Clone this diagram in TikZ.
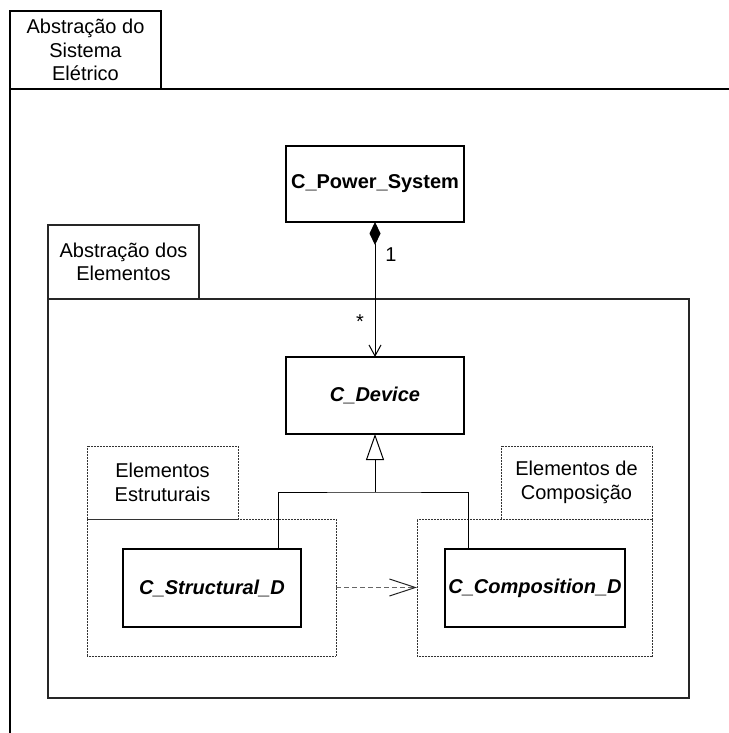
\documentclass[tikz,border=0pt]{standalone}
\usepackage{fontspec}
\setmainfont{Liberation Sans}
\usetikzlibrary{arrows.meta}
\begin{document}
\begin{tikzpicture}[x=1pt,y=-1pt,
  every node/.style={inner sep=0pt, outer sep=0pt},
  txt/.style={font=\fontsize{20}{23.5}\selectfont, align=center},
  outerpkg/.style={draw, line width=2.6pt, txt},
  mainpkg/.style={draw=black!85, line width=1.1pt, txt},
  subpkg/.style={draw=black!80, line width=0.9pt, dash pattern=on 1pt off 0.5pt, txt},
  classbox/.style={draw, line width=2pt, fill=white, font=\fontsize{20}{24}\selectfont\bfseries},
  abstractclass/.style={classbox, font=\fontsize{20}{24}\selectfont\bfseries\itshape},
  conn/.style={line width=1pt},
  composition/.style={conn, {Diamond[length=23pt,width=11pt]}-{Straight Barb[length=11pt,width=12pt,line width=1pt]}},
  generalization/.style={conn, -{Triangle[open,length=26pt,width=18pt,fill=white]}},
  dependency/.style={conn, draw=black!60, dash pattern=on 5pt off 3pt, -{Straight Barb[length=26pt,width=17pt,line width=1pt,color=black!85]}},
  mult/.style={font=\fontsize{20}{24}\selectfont}
]
\useasboundingbox (0,0) rectangle (728,733);

% outer package: Abstração do Sistema Elétrico
\node[outerpkg, anchor=north west, minimum width=740pt, minimum height=700pt] (obody) at (10,89) {};
\node[outerpkg, anchor=north west, minimum width=151pt, minimum height=78pt, fill=white] (otab) at (10,11) {Abstração do\\Sistema\\Elétrico};

% package: Abstração dos Elementos
\node[mainpkg, anchor=north west, minimum width=641pt, minimum height=399pt] (ebody) at (48,299) {};
\node[mainpkg, anchor=north west, minimum width=151pt, minimum height=74pt] (etab) at (48,225) {Abstração dos\\Elementos};

% package: Elementos Estruturais
\node[subpkg, anchor=north west, minimum width=249pt, minimum height=137pt] (sbody) at (87,519) {};
\node[subpkg, anchor=north west, minimum width=151pt, minimum height=73pt] (stab) at (87,446) {Elementos\\Estruturais};

% package: Elementos de Composição
\node[subpkg, anchor=north west, minimum width=235pt, minimum height=137pt] (cbody) at (417,519) {};
\node[subpkg, anchor=north west, minimum width=151pt, minimum height=73pt] (ctab) at (501,446) {Elementos de\\Composição};

% classes
\node[classbox, minimum width=178pt, minimum height=76pt] (ps) at (375,184) {C\_Power\_System};
\node[abstractclass, minimum width=178pt, minimum height=77pt] (dev) at (375,395.5) {C\_Device};
\node[abstractclass, minimum width=178pt, minimum height=78pt] (sd) at (212,588) {C\_Structural\_D};
\node[abstractclass, minimum width=180pt, minimum height=78pt] (cd) at (535,588) {C\_Composition\_D};

% composition: power system owns devices
\draw[composition] (ps.south) -- (dev.north);
\node[mult] (m1) at (391,255) {1};
\node[mult] (m2) at (360,322) {*};

% generalization tree
\coordinate (sx) at (278,0);
\coordinate (cx) at (468,0);
\coordinate (join) at (375,492);
\draw[conn] (sd.north -| sx) |- (join) -| (cd.north -| cx);
\draw[generalization] (join) -- (dev.south);

% dependency between packages
\draw[dependency] (sbody.east) -- (cbody.west);
\end{tikzpicture}
\end{document}
